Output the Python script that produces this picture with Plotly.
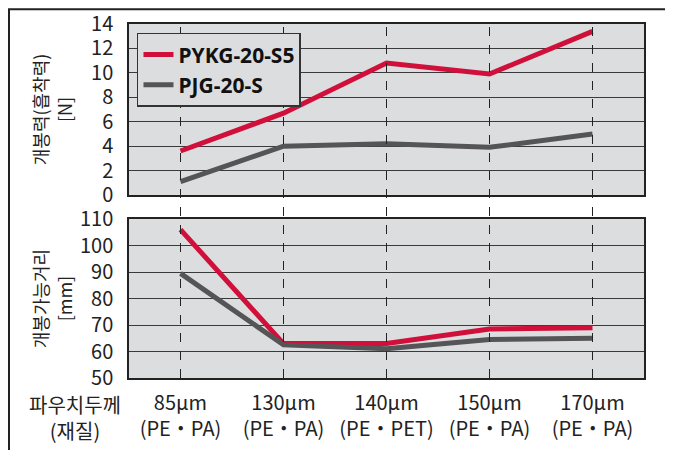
import plotly.graph_objects as go

categories = ["85μm<br>(PE・PA)", "130μm<br>(PE・PA)", "140μm<br>(PE・PET)", "150μm<br>(PE・PA)", "170μm<br>(PE・PA)"]
series_names = ["PYKG-20-S5", "PJG-20-S"]
force_red = [3.6, 6.7, 10.8, 9.9, 13.4]
force_gray = [1.1, 4.0, 4.2, 3.9, 5.0]
dist_red = [106, 63, 63, 68.5, 69]
dist_gray = [89.5, 62.5, 61, 64.5, 65]

RED = "#d0103a"
GRAY = "#555557"
BG = "#dcdddf"
FONT = "Noto Sans CJK KR"

fig = go.Figure()
fig.add_trace(go.Scatter(x=categories, y=force_red, name=series_names[0], mode="lines",
                         line=dict(color=RED, width=5), xaxis="x", yaxis="y"))
fig.add_trace(go.Scatter(x=categories, y=force_gray, name=series_names[1], mode="lines",
                         line=dict(color=GRAY, width=5), xaxis="x", yaxis="y"))
fig.add_trace(go.Scatter(x=categories, y=dist_red, showlegend=False, mode="lines",
                         line=dict(color=RED, width=5), xaxis="x2", yaxis="y2"))
fig.add_trace(go.Scatter(x=categories, y=dist_gray, showlegend=False, mode="lines",
                         line=dict(color=GRAY, width=5), xaxis="x2", yaxis="y2"))

# vertical dashed lines spanning both panels
shapes = []
for c in categories:
    shapes.append(dict(type="line", xref="x", yref="paper", x0=c, x1=c, y0=0, y1=1,
                       line=dict(color="#222", width=1, dash="dash"), layer="above"))
# outer frame
shapes.append(dict(type="rect", xref="paper", yref="paper", x0=-0.233, x1=1.0447, y0=-0.4, y1=1.042,
                   line=dict(color="#222", width=2), fillcolor="rgba(0,0,0,0)", layer="below"))

axis_common = dict(showline=True, linecolor="#222", linewidth=1.5, mirror=True, automargin=False,
                   tickfont=dict(family=FONT, size=20, color="#222"), ticks="")

fig.update_layout(
    width=665, height=442,
    margin=dict(l=121, r=29, t=16, b=72, autoexpand=False),
    paper_bgcolor="white", plot_bgcolor=BG,
    font=dict(family=FONT, color="#222"),
    shapes=shapes,
    xaxis=dict(domain=[0, 1], anchor="y", type="category", range=[-0.5, 4.5],
               showticklabels=False, showgrid=False, **axis_common),
    xaxis2=dict(domain=[0, 1], anchor="y2", type="category", range=[-0.5, 4.5],
                showgrid=False, matches="x", ticklabelstandoff=6, **axis_common),
    yaxis=dict(domain=[0.517, 1], range=[0, 14], dtick=2, showgrid=True, gridcolor="#3a3a3a", gridwidth=1,
               ticklabelstandoff=10,
               title=dict(text="개봉력(흡착력)<br>[N]", font=dict(family=FONT, size=18), standoff=14),
               **axis_common),
    yaxis2=dict(domain=[0, 0.449], range=[50, 110], dtick=10, showgrid=True, gridcolor="#3a3a3a", gridwidth=1,
                ticklabelstandoff=10,
                title=dict(text="개봉가능거리<br>[mm]", font=dict(family=FONT, size=18), standoff=3),
                **axis_common),
    legend=dict(x=0.0155, y=0.975, xanchor="left", yanchor="top", bgcolor=BG,
                bordercolor="#333", borderwidth=1.5,
                font=dict(family="Noto Sans", size=21, color="#111", weight="bold"),
                tracegroupgap=0, itemwidth=30),
    annotations=[dict(text="파우치두께<br>(재질)", xref="paper", yref="paper", x=-0.105, y=-0.028,
                      xanchor="center", yanchor="top", showarrow=False,
                      font=dict(family=FONT, size=20, color="#222"))],
)

fig.write_html("out.html")
